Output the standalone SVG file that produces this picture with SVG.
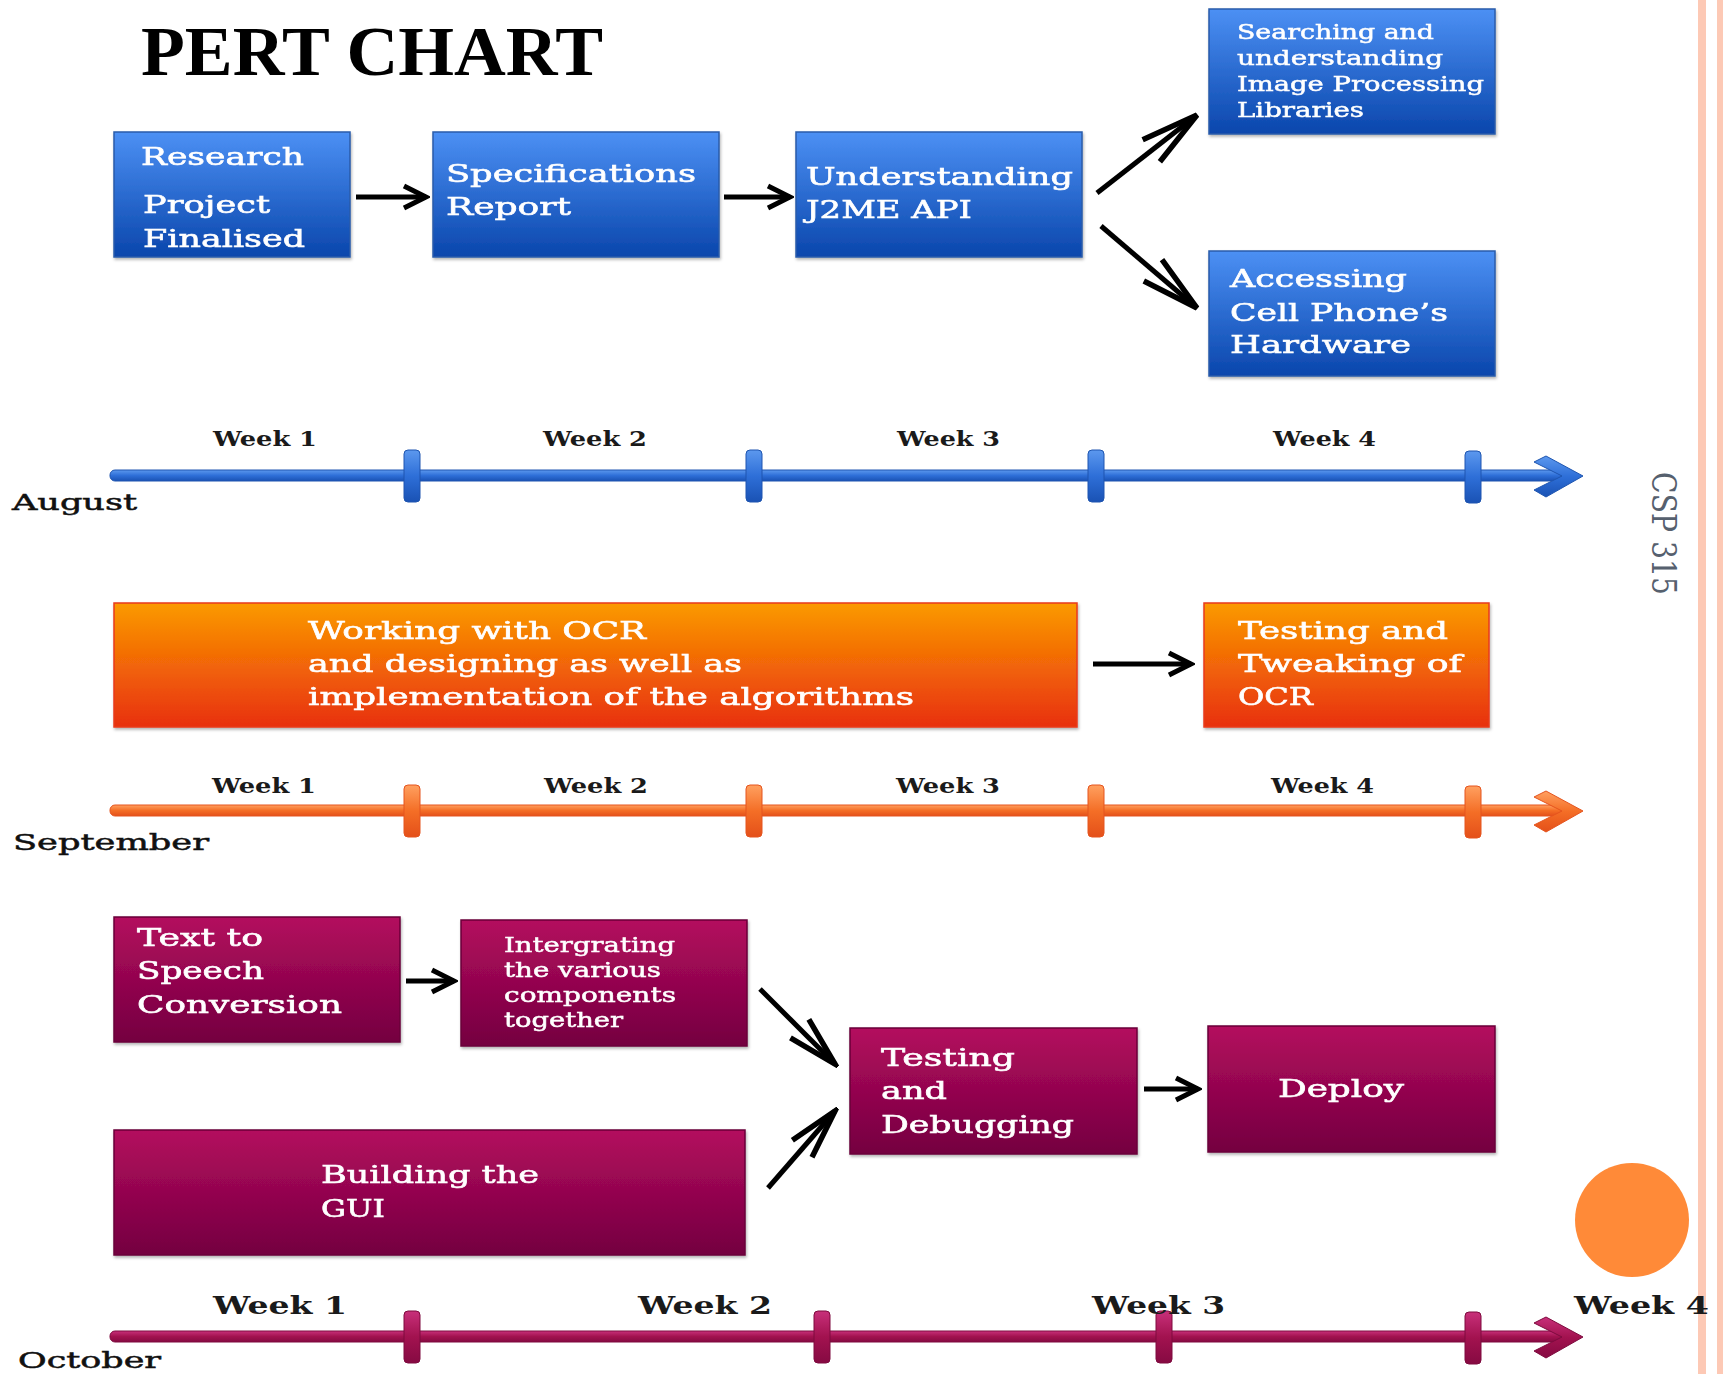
<svg xmlns="http://www.w3.org/2000/svg" width="1723" height="1374" viewBox="0 0 1723 1374">
<defs>
<linearGradient id="gBlue" x1="0" y1="0" x2="0" y2="1"><stop offset="0" stop-color="#4C90F4"/><stop offset="1" stop-color="#0A46AC"/></linearGradient>
<linearGradient id="gOrange" x1="0" y1="0" x2="0" y2="1"><stop offset="0" stop-color="#FB9A00"/><stop offset="1" stop-color="#E8300E"/></linearGradient>
<linearGradient id="gMag" x1="0" y1="0" x2="0" y2="1"><stop offset="0" stop-color="#B30B5E"/><stop offset="1" stop-color="#740040"/></linearGradient>
<linearGradient id="tBlue" x1="0" y1="0" x2="0" y2="1"><stop offset="0" stop-color="#5C98EE"/><stop offset="0.5" stop-color="#2E6FD8"/><stop offset="1" stop-color="#1A52B4"/></linearGradient>
<linearGradient id="tOrange" x1="0" y1="0" x2="0" y2="1"><stop offset="0" stop-color="#FFA060"/><stop offset="0.5" stop-color="#F46E26"/><stop offset="1" stop-color="#E4501A"/></linearGradient>
<linearGradient id="tMag" x1="0" y1="0" x2="0" y2="1"><stop offset="0" stop-color="#C8307A"/><stop offset="0.5" stop-color="#A2124F"/><stop offset="1" stop-color="#860A42"/></linearGradient>
<filter id="sh" x="-5%" y="-5%" width="110%" height="115%"><feDropShadow dx="1" dy="2" stdDeviation="1.5" flood-color="#000" flood-opacity="0.3"/></filter>
<marker id="mS" viewBox="-30 -15 34 30" refX="0" refY="0" markerWidth="34" markerHeight="30" markerUnits="userSpaceOnUse" orient="auto"><path d="M-22,-11 L0,0 L-22,11" fill="none" stroke="#000" stroke-width="5"/></marker>
<marker id="mL" viewBox="-64 -20 68 40" refX="0" refY="0" markerWidth="68" markerHeight="40" markerUnits="userSpaceOnUse" orient="auto"><path d="M-58,-14 L0,0 L-58,14" fill="none" stroke="#000" stroke-width="5.5"/></marker>
<marker id="mM" viewBox="-64 -20 68 40" refX="0" refY="0" markerWidth="68" markerHeight="40" markerUnits="userSpaceOnUse" orient="auto"><path d="M-50,-13 L0,0 L-50,13" fill="none" stroke="#000" stroke-width="5.5"/></marker>
</defs>
<style>
.bt{font-family:"DejaVu Serif","Liberation Serif",serif;fill:#fff;font-size:25px;stroke:#fff;stroke-width:0.6}
.bs{font-family:"DejaVu Serif","Liberation Serif",serif;fill:#fff;font-size:21px;stroke:#fff;stroke-width:0.5}
.wk{font-family:"DejaVu Serif","Liberation Serif",serif;fill:#1a1a1a;font-size:21px;font-weight:bold}
.wk2{font-family:"DejaVu Serif","Liberation Serif",serif;fill:#1a1a1a;font-size:25px;font-weight:bold}
.mo{font-family:"DejaVu Serif","Liberation Serif",serif;fill:#111;font-size:22px;stroke:#111;stroke-width:0.5}
.blue{fill:url(#gBlue);stroke:#2A5BAA;stroke-width:1.5}
.orange{fill:url(#gOrange);stroke:#E83A1E;stroke-width:1.5}
.mag{fill:url(#gMag);stroke:#6A0038;stroke-width:1.5}
.conn{fill:none;stroke:#000;stroke-width:5}
</style>
<rect width="1723" height="1374" fill="#fff"/>
<rect x="1698" y="0" width="8" height="1374" fill="#FDC9B5"/>
<rect x="1717" y="0" width="6" height="1374" fill="#FDC9B5"/>
<text x="1652" y="472" transform="rotate(90 1652 472)" font-family="DejaVu Serif,Liberation Serif,serif" font-size="33" fill="#56606E" textLength="123" lengthAdjust="spacingAndGlyphs">CSP 315</text>
<text x="141" y="75" font-family="Liberation Serif,serif" font-weight="bold" font-size="70" fill="#000" textLength="462" lengthAdjust="spacingAndGlyphs">PERT CHART</text>

<g id="n-research" filter="url(#sh)"><rect class="blue" x="114" y="132" width="236" height="125"/>
<text class="bt" x="141" y="165" textLength="163" lengthAdjust="spacingAndGlyphs">Research</text>
<text class="bt" x="143" y="213" textLength="127" lengthAdjust="spacingAndGlyphs">Project</text>
<text class="bt" x="143" y="247" textLength="162" lengthAdjust="spacingAndGlyphs">Finalised</text></g>
<g id="n-spec" filter="url(#sh)"><rect class="blue" x="433" y="132" width="286" height="125"/>
<text class="bt" x="446" y="182" textLength="250" lengthAdjust="spacingAndGlyphs">Specifications</text>
<text class="bt" x="446" y="215" textLength="125" lengthAdjust="spacingAndGlyphs">Report</text></g>
<g id="n-j2me" filter="url(#sh)"><rect class="blue" x="796" y="132" width="286" height="125"/>
<text class="bt" x="806" y="185" textLength="267" lengthAdjust="spacingAndGlyphs">Understanding</text>
<text class="bt" x="806" y="218" textLength="166" lengthAdjust="spacingAndGlyphs">J2ME API</text></g>
<g id="n-search" filter="url(#sh)"><rect class="blue" x="1209" y="9" width="286" height="125"/>
<text class="bs" x="1237" y="39" textLength="197" lengthAdjust="spacingAndGlyphs">Searching and</text>
<text class="bs" x="1237" y="65" textLength="206" lengthAdjust="spacingAndGlyphs">understanding</text>
<text class="bs" x="1237" y="91" textLength="247" lengthAdjust="spacingAndGlyphs">Image Processing</text>
<text class="bs" x="1237" y="117" textLength="127" lengthAdjust="spacingAndGlyphs">Libraries</text></g>
<g id="n-access" filter="url(#sh)"><rect class="blue" x="1209" y="251" width="286" height="125"/>
<text class="bt" x="1230" y="287" textLength="177" lengthAdjust="spacingAndGlyphs">Accessing</text>
<text class="bt" x="1230" y="321" textLength="218" lengthAdjust="spacingAndGlyphs">Cell Phone’s</text>
<text class="bt" x="1230" y="353" textLength="181" lengthAdjust="spacingAndGlyphs">Hardware</text></g>

<g id="n-ocr" filter="url(#sh)"><rect class="orange" x="114" y="603" width="963" height="124"/>
<text class="bt" x="308" y="639" textLength="338" lengthAdjust="spacingAndGlyphs">Working with OCR</text>
<text class="bt" x="308" y="672" textLength="434" lengthAdjust="spacingAndGlyphs">and designing as well as</text>
<text class="bt" x="308" y="705" textLength="606" lengthAdjust="spacingAndGlyphs">implementation of the algorithms</text></g>
<g id="n-tweak" filter="url(#sh)"><rect class="orange" x="1204" y="603" width="285" height="124"/>
<text class="bt" x="1238" y="639" textLength="210" lengthAdjust="spacingAndGlyphs">Testing and</text>
<text class="bt" x="1238" y="672" textLength="224" lengthAdjust="spacingAndGlyphs">Tweaking of</text>
<text class="bt" x="1238" y="705" textLength="75" lengthAdjust="spacingAndGlyphs">OCR</text></g>

<g id="n-tts" filter="url(#sh)"><rect class="mag" x="114" y="917" width="286" height="125"/>
<text class="bt" x="137" y="946" textLength="126" lengthAdjust="spacingAndGlyphs">Text to</text>
<text class="bt" x="137" y="979" textLength="127" lengthAdjust="spacingAndGlyphs">Speech</text>
<text class="bt" x="137" y="1013" textLength="205" lengthAdjust="spacingAndGlyphs">Conversion</text></g>
<g id="n-integ" filter="url(#sh)"><rect class="mag" x="461" y="920" width="286" height="126"/>
<text class="bs" x="504" y="952" textLength="171" lengthAdjust="spacingAndGlyphs">Intergrating</text>
<text class="bs" x="504" y="977" textLength="157" lengthAdjust="spacingAndGlyphs">the various</text>
<text class="bs" x="504" y="1002" textLength="172" lengthAdjust="spacingAndGlyphs">components</text>
<text class="bs" x="504" y="1027" textLength="119" lengthAdjust="spacingAndGlyphs">together</text></g>
<g id="n-gui" filter="url(#sh)"><rect class="mag" x="114" y="1130" width="631" height="125"/>
<text class="bt" x="321" y="1183" textLength="218" lengthAdjust="spacingAndGlyphs">Building the</text>
<text class="bt" x="321" y="1217" textLength="64" lengthAdjust="spacingAndGlyphs">GUI</text></g>
<g id="n-test" filter="url(#sh)"><rect class="mag" x="850" y="1028" width="287" height="126"/>
<text class="bt" x="881" y="1066" textLength="134" lengthAdjust="spacingAndGlyphs">Testing</text>
<text class="bt" x="881" y="1099" textLength="66" lengthAdjust="spacingAndGlyphs">and</text>
<text class="bt" x="881" y="1133" textLength="193" lengthAdjust="spacingAndGlyphs">Debugging</text></g>
<g id="n-deploy" filter="url(#sh)"><rect class="mag" x="1208" y="1026" width="287" height="126"/>
<text class="bt" x="1278" y="1097" textLength="126" lengthAdjust="spacingAndGlyphs">Deploy</text></g>

<g id="connectors">
<line class="conn" x1="356" y1="197" x2="426" y2="197" marker-end="url(#mS)"/>
<line class="conn" x1="724" y1="197" x2="790" y2="197" marker-end="url(#mS)"/>
<line class="conn" x1="1097" y1="193" x2="1197" y2="115" marker-end="url(#mL)"/>
<line class="conn" x1="1101" y1="226" x2="1197" y2="308" marker-end="url(#mL)"/>
<line class="conn" x1="1093" y1="664" x2="1191" y2="664" marker-end="url(#mS)"/>
<line class="conn" x1="406" y1="981" x2="454" y2="981" marker-end="url(#mS)"/>
<line class="conn" x1="760" y1="989" x2="835" y2="1064" marker-end="url(#mM)"/>
<line class="conn" x1="768" y1="1188" x2="835" y2="1111" marker-end="url(#mM)"/>
<line class="conn" x1="1144" y1="1089" x2="1198" y2="1089" marker-end="url(#mS)"/>
</g>

<g id="timeline-aug">
<rect x="110" y="470" width="1460" height="11" rx="5" fill="url(#tBlue)" stroke="#1E55B0" stroke-width="1"/>
<path d="M1534,462 L1546,456 L1583,476 L1546,497 L1534,490 L1562,476 Z" fill="url(#tBlue)" stroke="#1E55B0" stroke-width="1"/>
<rect x="404" y="450" width="16" height="52" rx="4" fill="url(#tBlue)" stroke="#1E55B0" stroke-width="1"/>
<rect x="746" y="450" width="16" height="52" rx="4" fill="url(#tBlue)" stroke="#1E55B0" stroke-width="1"/>
<rect x="1088" y="450" width="16" height="52" rx="4" fill="url(#tBlue)" stroke="#1E55B0" stroke-width="1"/>
<rect x="1465" y="451" width="16" height="52" rx="4" fill="url(#tBlue)" stroke="#1E55B0" stroke-width="1"/>
<text class="wk" x="213" y="446" textLength="104" lengthAdjust="spacingAndGlyphs">Week 1</text>
<text class="wk" x="543" y="446" textLength="104" lengthAdjust="spacingAndGlyphs">Week 2</text>
<text class="wk" x="897" y="446" textLength="103" lengthAdjust="spacingAndGlyphs">Week 3</text>
<text class="wk" x="1273" y="446" textLength="103" lengthAdjust="spacingAndGlyphs">Week 4</text>
<text class="mo" x="12" y="510" textLength="125" lengthAdjust="spacingAndGlyphs">August</text>
</g>

<g id="timeline-sep">
<rect x="110" y="805" width="1460" height="11" rx="5" fill="url(#tOrange)" stroke="#E5541E" stroke-width="1"/>
<path d="M1534,797 L1546,791 L1583,811 L1546,832 L1534,825 L1562,811 Z" fill="url(#tOrange)" stroke="#E5541E" stroke-width="1"/>
<rect x="404" y="785" width="16" height="52" rx="4" fill="url(#tOrange)" stroke="#E5541E" stroke-width="1"/>
<rect x="746" y="785" width="16" height="52" rx="4" fill="url(#tOrange)" stroke="#E5541E" stroke-width="1"/>
<rect x="1088" y="785" width="16" height="52" rx="4" fill="url(#tOrange)" stroke="#E5541E" stroke-width="1"/>
<rect x="1465" y="786" width="16" height="52" rx="4" fill="url(#tOrange)" stroke="#E5541E" stroke-width="1"/>
<text class="wk" x="212" y="793" textLength="104" lengthAdjust="spacingAndGlyphs">Week 1</text>
<text class="wk" x="544" y="793" textLength="104" lengthAdjust="spacingAndGlyphs">Week 2</text>
<text class="wk" x="896" y="793" textLength="104" lengthAdjust="spacingAndGlyphs">Week 3</text>
<text class="wk" x="1271" y="793" textLength="103" lengthAdjust="spacingAndGlyphs">Week 4</text>
<text class="mo" x="13" y="850" textLength="196" lengthAdjust="spacingAndGlyphs">September</text>
</g>

<g id="timeline-oct">
<rect x="110" y="1331" width="1460" height="11" rx="5" fill="url(#tMag)" stroke="#7E0A3E" stroke-width="1"/>
<path d="M1534,1323 L1546,1317 L1583,1337 L1546,1358 L1534,1351 L1562,1337 Z" fill="url(#tMag)" stroke="#7E0A3E" stroke-width="1"/>
<rect x="404" y="1311" width="16" height="52" rx="4" fill="url(#tMag)" stroke="#7E0A3E" stroke-width="1"/>
<rect x="814" y="1311" width="16" height="52" rx="4" fill="url(#tMag)" stroke="#7E0A3E" stroke-width="1"/>
<rect x="1156" y="1311" width="16" height="52" rx="4" fill="url(#tMag)" stroke="#7E0A3E" stroke-width="1"/>
<rect x="1465" y="1312" width="16" height="52" rx="4" fill="url(#tMag)" stroke="#7E0A3E" stroke-width="1"/>
<text class="wk2" x="213" y="1314" textLength="134" lengthAdjust="spacingAndGlyphs">Week 1</text>
<text class="wk2" x="638" y="1314" textLength="134" lengthAdjust="spacingAndGlyphs">Week 2</text>
<text class="wk2" x="1092" y="1314" textLength="133" lengthAdjust="spacingAndGlyphs">Week 3</text>
<text class="wk2" x="1574" y="1314" textLength="135" lengthAdjust="spacingAndGlyphs">Week 4</text>
<text class="mo" x="18" y="1368" textLength="143" lengthAdjust="spacingAndGlyphs">October</text>
</g>

<circle cx="1632" cy="1220" r="57" fill="#FF8A38"/>
</svg>
